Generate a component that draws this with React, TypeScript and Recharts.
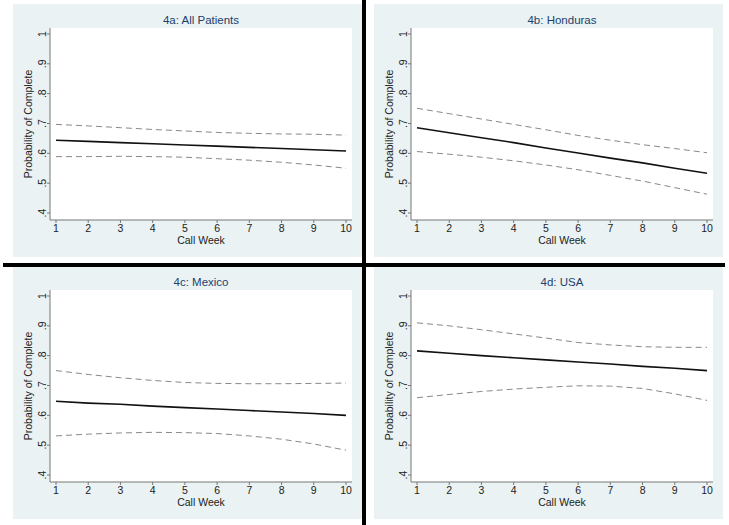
import React from 'react';
import { LineChart, Line, XAxis, YAxis, CartesianGrid } from 'recharts';

// Call weeks on the x axis
const weeks = [1, 2, 3, 4, 5, 6, 7, 8, 9, 10];
const yTicks = [0.4, 0.5, 0.6, 0.7, 0.8, 0.9, 1];
const yTickLabels = ['.4', '.5', '.6', '.7', '.8', '.9', '1'];

// 4a: All Patients
const allMid = [0.644, 0.640, 0.636, 0.632, 0.628, 0.624, 0.620, 0.616, 0.612, 0.608];
const allUpper = [0.697, 0.692, 0.686, 0.680, 0.675, 0.670, 0.667, 0.665, 0.664, 0.661];
const allLower = [0.589, 0.589, 0.590, 0.589, 0.587, 0.582, 0.577, 0.570, 0.561, 0.550];

// 4b: Honduras
const honMid = [0.686, 0.669, 0.652, 0.636, 0.618, 0.601, 0.584, 0.568, 0.550, 0.533];
const honUpper = [0.751, 0.733, 0.715, 0.697, 0.679, 0.660, 0.644, 0.629, 0.616, 0.602];
const honLower = [0.606, 0.597, 0.587, 0.575, 0.561, 0.545, 0.526, 0.507, 0.485, 0.463];

// 4c: Mexico
const mexMid = [0.647, 0.641, 0.637, 0.631, 0.626, 0.621, 0.616, 0.611, 0.606, 0.600];
const mexUpper = [0.750, 0.737, 0.726, 0.717, 0.710, 0.707, 0.706, 0.706, 0.707, 0.708];
const mexLower = [0.531, 0.537, 0.541, 0.543, 0.542, 0.539, 0.531, 0.520, 0.504, 0.483];

// 4d: USA
const usaMid = [0.816, 0.808, 0.800, 0.793, 0.786, 0.779, 0.772, 0.764, 0.758, 0.750];
const usaUpper = [0.910, 0.900, 0.887, 0.873, 0.859, 0.844, 0.836, 0.830, 0.828, 0.828];
const usaLower = [0.659, 0.670, 0.680, 0.688, 0.694, 0.699, 0.698, 0.690, 0.672, 0.650];

const titles = ['4a: All Patients', '4b: Honduras', '4c: Mexico', '4d: USA'];
const series = [
  [allMid, allUpper, allLower],
  [honMid, honUpper, honLower],
  [mexMid, mexUpper, mexLower],
  [usaMid, usaUpper, usaLower],
];

// panel placement (left, top) of the shaded graph region
const PANEL_POS = [
  [13, 4],
  [374, 4],
  [13, 266],
  [374, 266],
];

const PANEL_W = 349;
const PANEL_H = 253;
const FONT = '"Liberation Sans", Arial, Helvetica, sans-serif';

const YTick = ({ x, y, payload }: any) => {
  const i = yTicks.findIndex(t => Math.abs(t - payload.value) < 1e-6);
  const cx = x - 3;
  return (
    <text
      x={cx}
      y={y}
      dy="0.35em"
      textAnchor="middle"
      transform={`rotate(-90, ${cx}, ${y})`}
      fontSize={10.5}
      fontFamily={FONT}
      fill="#222"
    >
      {i >= 0 ? yTickLabels[i] : ''}
    </text>
  );
};

const Panel = ({ idx }: { idx: number }) => {
  const [mid, upper, lower] = series[idx];
  const rows = weeks.map((w, i) => ({ week: w, mid: mid[i], upper: upper[i], lower: lower[i] }));
  const [left, top] = PANEL_POS[idx];
  return (
    <div style={{ position: 'absolute', left, top, width: PANEL_W, height: PANEL_H, background: '#eaf2f3' }}>
      <div
        style={{
          position: 'absolute',
          left: 37,
          top: 9,
          width: 302,
          textAlign: 'center',
          fontSize: 11.5,
          lineHeight: '14px',
          color: '#1c3f6e',
          fontFamily: FONT,
        }}
      >
        {titles[idx]}
      </div>
      <LineChart width={PANEL_W} height={PANEL_H} data={rows} margin={{ top: 24, right: 10, bottom: 0, left: 0 }}>
        <CartesianGrid fill="#ffffff" stroke="none" horizontal={false} vertical={false} />
        <XAxis
          dataKey="week"
          type="number"
          domain={[1, 10]}
          ticks={weeks}
          interval={0}
          padding={{ left: 6, right: 6 }}
          height={37}
          tickSize={3}
          tickMargin={2}
          stroke="#777"
          tick={{ fill: '#222', fontSize: 10.5, fontFamily: FONT }}
          label={{ value: 'Call Week', position: 'insideBottom', offset: 13, fill: '#222', fontSize: 10.5, fontFamily: FONT }}
        />
        <YAxis
          type="number"
          domain={[0.4, 1]}
          ticks={yTicks}
          interval={0}
          padding={{ top: 6, bottom: 7 }}
          width={37}
          tickSize={3}
          tickMargin={2}
          stroke="#777"
          tick={<YTick />}
          label={{
            value: 'Probability of Complete',
            angle: -90,
            position: 'insideLeft',
            offset: 15,
            style: { textAnchor: 'middle' },
            fill: '#222',
            fontSize: 10.5,
            fontFamily: FONT,
          }}
        />
        <Line type="linear" dataKey="upper" stroke="#888" strokeWidth={1} strokeDasharray="6 4" dot={false} isAnimationActive={false} />
        <Line type="linear" dataKey="lower" stroke="#888" strokeWidth={1} strokeDasharray="6 4" dot={false} isAnimationActive={false} />
        <Line type="linear" dataKey="mid" stroke="#111" strokeWidth={1.6} dot={false} isAnimationActive={false} />
      </LineChart>
    </div>
  );
};

export default function App() {
  return (
    <div style={{ position: 'absolute', left: 0, top: 0, width: 729, height: 525, background: '#fff', overflow: 'hidden' }}>
      {titles.map((_, i) => (
        <Panel key={i} idx={i} />
      ))}
      {/* thick dividers between the four graphs */}
      <div style={{ position: 'absolute', left: 362, top: 0, width: 4, height: 525, background: '#000' }} />
      <div style={{ position: 'absolute', left: 3, top: 263, width: 722, height: 4, background: '#000' }} />
    </div>
  );
}
